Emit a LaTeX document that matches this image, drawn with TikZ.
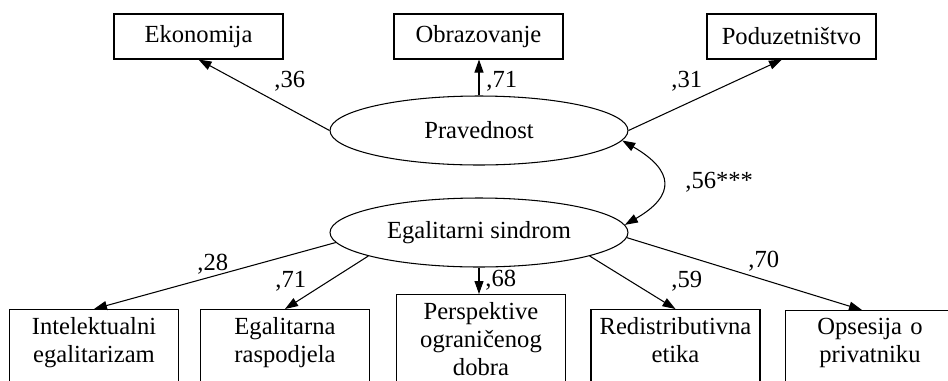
\documentclass[tikz,border=0pt]{standalone}
\usepackage{fontspec}
\setmainfont{Liberation Serif}
\usetikzlibrary{shapes.geometric,arrows.meta}
\tikzset{
    >={Triangle[length=2.6mm,width=1.8mm]},
    every node/.style={font=\fontsize{14}{16}\selectfont},
    ind/.style={
        draw,
        line width=0.6pt,
        minimum width=3.38cm,
        minimum height=0.9cm,
        inner sep=0pt
    },
    indlow/.style={
        draw,
        line width=0.6pt,
        anchor=north,
        text width=3.38cm,
        inner xsep=0pt,
        inner ysep=4.5pt,
        align=center,
        text depth=2cm
    },
    lat/.style={
        draw,
        ellipse,
        line width=0.6pt,
        minimum width=5.96cm,
        minimum height=1.38cm,
        inner sep=0pt
    },
    load/.style={line width=0.6pt,->},
    corr/.style={line width=0.6pt,<->},
    wt/.style={anchor=base west,inner sep=0pt}
}
\newcommand{\weight}[4] {
    \node[wt] (#1) at (#2, -#3) {#4};
}

\begin{document}
\begin{tikzpicture}[x=0.02cm,y=0.02cm]
    \useasboundingbox (0,0) rectangle (948,-380);
    \clip (0,0) rectangle (948,-380);
    % indicators of Pravednost
    \node[ind] (eko) at (198.5,-36.5) {Ekonomija};
    \node[ind] (obr) at (478.5,-36.5) {Obrazovanje};
    \node[ind] (pod) at (791.5,-36.5) {Poduzetništvo};
    % latent factors
    \node[lat] (prav) at (479,-130.5) {Pravednost};
    \node[lat] (egal) at (479,-232.5) {Egalitarni sindrom};
    % indicators of Egalitarni sindrom
    \node[indlow] (int) at (94,-309) {Intelektualni\\egalitarizam};
    \node[indlow] (egr) at (285,-309) {Egalitarna\\raspodjela};
    \node[indlow] (per) at (481,-294) {Perspektive\\ograničenog\\dobra};
    \node[indlow] (red) at (675.5,-309) {Redistributivna\\etika};
    \node[indlow] (ops) at (870,-310) {Opsesija o\\privatniku};
    % loadings
    \draw[load] (prav.west) -- (eko.south);
    \draw[load] (prav.north) -- (prav.north |- obr.south);
    \draw[load] (prav.east) -- ([xshift=-0.19cm]pod.south);
    \draw[load] (egal.184) -- (int.north);
    \draw[load] (egal.192) -- (egr.north);
    \draw[load] (egal.south) -- (egal.south |- per.north);
    \draw[load] (egal.348) -- (red.north);
    \draw[load] (egal.-2) -- ([xshift=-0.16cm]ops.north);
    % correlation
    \draw[corr] (prav.-4) to[out=-30,in=30,looseness=1.8] (egal.3);
    \weight{w36}{274}{87}{,36}
    \weight{w71a}{486}{87}{,71}
    \weight{w31}{671}{87}{,31}
    \weight{w56}{685}{188}{,56***}
    \weight{w28}{197}{270}{,28}
    \weight{w71b}{275}{287}{,71}
    \weight{w68}{485}{286}{,68}
    \weight{w59}{671}{287}{,59}
    \weight{w70}{748}{267}{,70}
\end{tikzpicture}
\end{document}
